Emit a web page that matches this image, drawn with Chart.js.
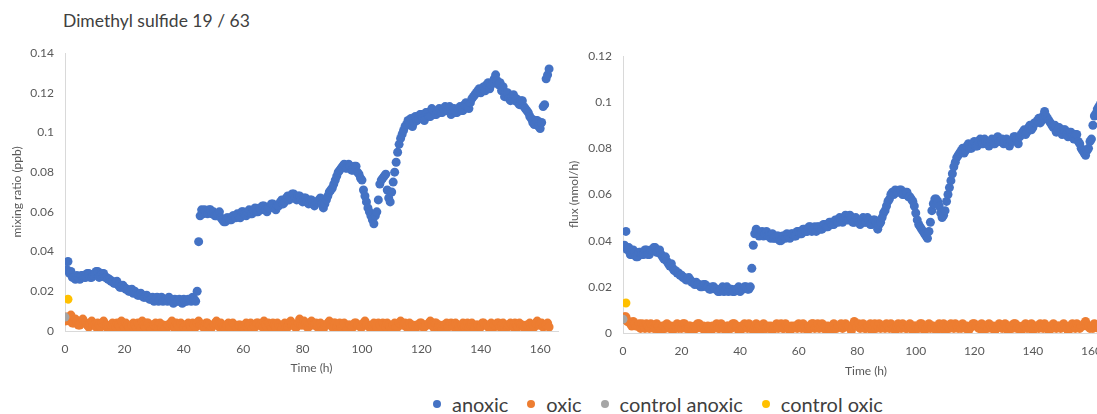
<!DOCTYPE html>
<html>
<head>
<meta charset="utf-8">
<script src="https://cdn.jsdelivr.net/npm/chart.js@4"></script>
<style>
    body { margin: 0; width: 1097px; height: 414px; overflow: hidden; background: #fff; position: relative; font-family: Lato, 'Open Sans', sans-serif; }
    .title { position: absolute; left: 63px; top: 10px; font-size: 17.5px; color: #404040; }
    .chart-box { position: absolute; top: 0; }
    .legend { position: absolute; left: 433px; top: 392px; display: flex; font-size: 20px; color: #404040; white-space: nowrap; }
    .legend-item { display: flex; align-items: center; margin-right: 19px; }
    .legend-dot { width: 8px; height: 8px; border-radius: 50%; margin-right: 11px; }
</style>
</head>
<body>
<div class="title">Dimethyl sulfide 19 / 63</div>
<div class="chart-box" style="left:0px"><canvas id="mixChart" width="570" height="380"></canvas></div>
<div class="chart-box" style="left:560px"><canvas id="fluxChart" width="560" height="380"></canvas></div>
<div id="legend" class="legend"></div>
<script>
// one sample every half hour, starting at t = 0
const STEP_H = 0.5;

const seriesNames = ['anoxic', 'oxic', 'control anoxic', 'control oxic'];
const seriesColors = ['#4472C4', '#ED7D31', '#A5A5A5', '#FFC000'];
const timeTicks = [0, 20, 40, 60, 80, 100, 120, 140, 160];

// mixing ratio (ppb), 10 h per row
const mixAnoxic = [
    0.006, 0.031, 0.035, 0.029, 0.030, 0.027, 0.027, 0.026, 0.028, 0.027, 0.026, 0.028, 0.028, 0.027, 0.027, 0.029, 0.029, 0.027, 0.027, 0.028,
    0.029, 0.030, 0.030, 0.027, 0.028, 0.029, 0.029, 0.027, 0.027, 0.026, 0.026, 0.025, 0.025, 0.024, 0.024, 0.025, 0.023, 0.022, 0.022, 0.023,
    0.022, 0.021, 0.021, 0.020, 0.020, 0.021, 0.019, 0.020, 0.019, 0.018, 0.018, 0.019, 0.018, 0.017, 0.017, 0.018, 0.017, 0.016, 0.016, 0.017,
    0.015, 0.016, 0.017, 0.015, 0.016, 0.017, 0.015, 0.016, 0.016, 0.015, 0.017, 0.016, 0.015, 0.014, 0.016, 0.015, 0.015, 0.016, 0.015, 0.014,
    0.016, 0.015, 0.015, 0.016, 0.016, 0.015, 0.017, 0.016, 0.015, 0.020, 0.045, 0.058, 0.061, 0.059, 0.061, 0.060, 0.059, 0.061, 0.061, 0.059,
    0.060, 0.058, 0.058, 0.059, 0.060, 0.057, 0.056, 0.055, 0.055, 0.057, 0.057, 0.056, 0.056, 0.058, 0.058, 0.057, 0.059, 0.058, 0.057, 0.060,
    0.060, 0.059, 0.058, 0.060, 0.061, 0.059, 0.059, 0.061, 0.062, 0.060, 0.060, 0.062, 0.061, 0.063, 0.063, 0.061, 0.060, 0.062, 0.062, 0.064,
    0.064, 0.062, 0.061, 0.063, 0.063, 0.065, 0.066, 0.064, 0.065, 0.067, 0.068, 0.066, 0.067, 0.069, 0.069, 0.067, 0.066, 0.068, 0.068, 0.066,
    0.065, 0.067, 0.067, 0.065, 0.064, 0.066, 0.066, 0.064, 0.063, 0.065, 0.065, 0.066, 0.067, 0.064, 0.062, 0.064, 0.066, 0.068, 0.070, 0.071,
    0.072, 0.074, 0.076, 0.078, 0.080, 0.081, 0.082, 0.083, 0.084, 0.082, 0.082, 0.084, 0.083, 0.081, 0.081, 0.083, 0.083, 0.080, 0.079, 0.077,
    0.076, 0.071, 0.068, 0.065, 0.062, 0.060, 0.058, 0.056, 0.054, 0.058, 0.060, 0.066, 0.074, 0.076, 0.077, 0.078, 0.079, 0.071, 0.067, 0.065,
    0.070, 0.075, 0.080, 0.085, 0.090, 0.094, 0.097, 0.099, 0.101, 0.103, 0.104, 0.106, 0.105, 0.107, 0.103, 0.105, 0.108, 0.106, 0.107, 0.109,
    0.109, 0.107, 0.106, 0.110, 0.110, 0.108, 0.108, 0.112, 0.111, 0.109, 0.109, 0.111, 0.112, 0.110, 0.110, 0.112, 0.113, 0.111, 0.111, 0.113,
    0.109, 0.111, 0.112, 0.110, 0.110, 0.112, 0.113, 0.111, 0.111, 0.114, 0.115, 0.113, 0.112, 0.115, 0.117, 0.118, 0.119, 0.120, 0.121, 0.122,
    0.120, 0.122, 0.123, 0.121, 0.124, 0.125, 0.122, 0.124, 0.125, 0.127, 0.129, 0.126, 0.124, 0.125, 0.121, 0.123, 0.118, 0.120, 0.120, 0.117,
    0.116, 0.118, 0.119, 0.116, 0.117, 0.115, 0.114, 0.116, 0.116, 0.113, 0.112, 0.111, 0.110, 0.108, 0.107, 0.105, 0.104, 0.106, 0.106, 0.103,
    0.102, 0.105, 0.113, 0.114, 0.127, 0.129, 0.132
];
const mixOxic = [
    0.005, 0.007, 0.006, 0.005, 0.008, 0.004, 0.004, 0.006, 0.005, 0.003, 0.003, 0.005, 0.006, 0.004, 0.004, 0.003, 0.002, 0.004, 0.005, 0.003,
    0.003, 0.002, 0.004, 0.003, 0.002, 0.004, 0.005, 0.003, 0.003, 0.001, 0.001, 0.003, 0.004, 0.002, 0.002, 0.004, 0.003, 0.002, 0.005, 0.003,
    0.002, 0.004, 0.003, 0.002, 0.001, 0.003, 0.004, 0.003, 0.002, 0.004, 0.003, 0.001, 0.005, 0.003, 0.002, 0.004, 0.004, 0.002, 0.001, 0.003,
    0.003, 0.004, 0.002, 0.003, 0.004, 0.002, 0.003, 0.001, 0.001, 0.003, 0.003, 0.004, 0.005, 0.002, 0.002, 0.004, 0.003, 0.002, 0.004, 0.003,
    0.002, 0.003, 0.001, 0.004, 0.003, 0.002, 0.004, 0.003, 0.002, 0.004, 0.005, 0.003, 0.003, 0.002, 0.002, 0.004, 0.004, 0.003, 0.001, 0.002,
    0.003, 0.004, 0.005, 0.003, 0.002, 0.004, 0.003, 0.002, 0.001, 0.003, 0.004, 0.002, 0.002, 0.004, 0.003, 0.001, 0.001, 0.003, 0.003, 0.002,
    0.002, 0.003, 0.004, 0.002, 0.003, 0.004, 0.001, 0.003, 0.002, 0.004, 0.004, 0.003, 0.003, 0.002, 0.005, 0.003, 0.002, 0.004, 0.003, 0.002,
    0.004, 0.003, 0.002, 0.004, 0.003, 0.002, 0.001, 0.003, 0.004, 0.002, 0.002, 0.004, 0.005, 0.003, 0.003, 0.002, 0.002, 0.004, 0.006, 0.003,
    0.003, 0.005, 0.004, 0.002, 0.002, 0.004, 0.005, 0.003, 0.003, 0.004, 0.002, 0.003, 0.004, 0.002, 0.001, 0.003, 0.003, 0.004, 0.005, 0.003,
    0.002, 0.004, 0.004, 0.002, 0.003, 0.004, 0.002, 0.003, 0.004, 0.002, 0.001, 0.003, 0.003, 0.002, 0.002, 0.004, 0.004, 0.003, 0.003, 0.002,
    0.002, 0.004, 0.005, 0.003, 0.003, 0.002, 0.001, 0.003, 0.004, 0.003, 0.002, 0.004, 0.003, 0.002, 0.004, 0.003, 0.002, 0.004, 0.003, 0.002,
    0.001, 0.003, 0.004, 0.002, 0.002, 0.004, 0.005, 0.003, 0.003, 0.004, 0.002, 0.003, 0.004, 0.002, 0.003, 0.002, 0.001, 0.003, 0.003, 0.004,
    0.004, 0.002, 0.002, 0.003, 0.003, 0.004, 0.005, 0.003, 0.002, 0.004, 0.004, 0.002, 0.003, 0.002, 0.001, 0.003, 0.003, 0.004, 0.002, 0.003,
    0.004, 0.003, 0.002, 0.004, 0.003, 0.002, 0.001, 0.003, 0.004, 0.002, 0.003, 0.004, 0.002, 0.003, 0.004, 0.002, 0.001, 0.003, 0.003, 0.002,
    0.002, 0.004, 0.004, 0.003, 0.003, 0.002, 0.002, 0.004, 0.001, 0.003, 0.003, 0.004, 0.004, 0.002, 0.003, 0.004, 0.001, 0.003, 0.002, 0.003,
    0.004, 0.003, 0.002, 0.004, 0.003, 0.002, 0.004, 0.003, 0.003, 0.002, 0.001, 0.003, 0.003, 0.004, 0.002, 0.003, 0.002, 0.004, 0.005, 0.003,
    0.003, 0.004, 0.002, 0.003, 0.003, 0.004, 0.002
];
const mixCtrlAnoxicTime = [0];
const mixCtrlAnoxic = [0.007];
const mixCtrlOxicTime = [1];
const mixCtrlOxic = [0.016];

// flux (nmol/h), 10 h per row
const fluxAnoxic = [
    0.006, 0.038, 0.044, 0.036, 0.037, 0.034, 0.034, 0.036, 0.035, 0.033, 0.033, 0.035, 0.035, 0.034, 0.034, 0.036, 0.036, 0.034, 0.034, 0.036,
    0.036, 0.037, 0.037, 0.035, 0.035, 0.036, 0.034, 0.033, 0.032, 0.033, 0.031, 0.030, 0.029, 0.030, 0.028, 0.027, 0.027, 0.026, 0.026, 0.025,
    0.025, 0.024, 0.024, 0.023, 0.023, 0.024, 0.023, 0.022, 0.022, 0.021, 0.022, 0.021, 0.021, 0.020, 0.020, 0.021, 0.021, 0.020, 0.020, 0.019,
    0.019, 0.020, 0.020, 0.019, 0.019, 0.018, 0.018, 0.019, 0.020, 0.018, 0.019, 0.020, 0.018, 0.019, 0.019, 0.018, 0.018, 0.019, 0.019, 0.020,
    0.018, 0.019, 0.019, 0.020, 0.020, 0.019, 0.019, 0.020, 0.028, 0.038, 0.043, 0.045, 0.044, 0.042, 0.043, 0.044, 0.042, 0.043, 0.044, 0.042,
    0.042, 0.041, 0.043, 0.041, 0.041, 0.042, 0.042, 0.040, 0.040, 0.042, 0.042, 0.041, 0.043, 0.042, 0.041, 0.043, 0.043, 0.042, 0.042, 0.044,
    0.044, 0.043, 0.043, 0.045, 0.045, 0.044, 0.044, 0.046, 0.046, 0.044, 0.045, 0.046, 0.044, 0.046, 0.046, 0.045, 0.045, 0.047, 0.047, 0.046,
    0.046, 0.048, 0.048, 0.047, 0.047, 0.049, 0.049, 0.048, 0.050, 0.049, 0.048, 0.050, 0.051, 0.049, 0.049, 0.051, 0.050, 0.048, 0.048, 0.050,
    0.049, 0.048, 0.047, 0.049, 0.050, 0.048, 0.048, 0.050, 0.049, 0.047, 0.047, 0.049, 0.049, 0.048, 0.045, 0.047, 0.048, 0.050, 0.052, 0.053,
    0.055, 0.057, 0.058, 0.060, 0.061, 0.060, 0.062, 0.061, 0.061, 0.062, 0.062, 0.060, 0.060, 0.061, 0.061, 0.059, 0.059, 0.058, 0.057, 0.055,
    0.052, 0.049, 0.047, 0.046, 0.045, 0.044, 0.043, 0.042, 0.041, 0.044, 0.048, 0.053, 0.056, 0.058, 0.058, 0.057, 0.055, 0.052, 0.050, 0.051,
    0.053, 0.057, 0.060, 0.063, 0.066, 0.069, 0.072, 0.074, 0.076, 0.077, 0.078, 0.079, 0.080, 0.078, 0.079, 0.081, 0.082, 0.080, 0.080, 0.082,
    0.083, 0.081, 0.081, 0.083, 0.084, 0.082, 0.082, 0.084, 0.083, 0.082, 0.081, 0.083, 0.084, 0.082, 0.082, 0.084, 0.085, 0.083, 0.083, 0.084,
    0.082, 0.083, 0.084, 0.082, 0.081, 0.083, 0.083, 0.085, 0.085, 0.084, 0.082, 0.085, 0.086, 0.087, 0.088, 0.086, 0.087, 0.089, 0.090, 0.088,
    0.089, 0.091, 0.091, 0.092, 0.093, 0.091, 0.092, 0.094, 0.096, 0.094, 0.093, 0.092, 0.091, 0.090, 0.089, 0.090, 0.087, 0.088, 0.089, 0.087,
    0.086, 0.088, 0.088, 0.086, 0.085, 0.087, 0.087, 0.085, 0.084, 0.086, 0.086, 0.083, 0.082, 0.080, 0.079, 0.078, 0.077, 0.079, 0.080, 0.083,
    0.084, 0.090, 0.094, 0.095, 0.097, 0.098, 0.099
];
const fluxOxic = [
    0.006, 0.007, 0.007, 0.005, 0.005, 0.004, 0.003, 0.005, 0.004, 0.003, 0.003, 0.004, 0.002, 0.004, 0.003, 0.002, 0.004, 0.003, 0.002, 0.004,
    0.003, 0.002, 0.002, 0.004, 0.003, 0.001, 0.001, 0.003, 0.003, 0.002, 0.004, 0.003, 0.002, 0.003, 0.001, 0.002, 0.003, 0.004, 0.002, 0.003,
    0.002, 0.004, 0.004, 0.002, 0.002, 0.003, 0.003, 0.001, 0.001, 0.003, 0.002, 0.004, 0.004, 0.003, 0.002, 0.003, 0.001, 0.002, 0.003, 0.002,
    0.001, 0.003, 0.002, 0.003, 0.004, 0.002, 0.002, 0.004, 0.003, 0.002, 0.001, 0.003, 0.003, 0.002, 0.002, 0.004, 0.004, 0.003, 0.003, 0.001,
    0.001, 0.003, 0.002, 0.004, 0.003, 0.002, 0.004, 0.003, 0.002, 0.001, 0.003, 0.004, 0.002, 0.003, 0.001, 0.003, 0.004, 0.002, 0.002, 0.003,
    0.002, 0.003, 0.001, 0.002, 0.003, 0.004, 0.002, 0.003, 0.004, 0.002, 0.002, 0.004, 0.003, 0.002, 0.001, 0.003, 0.002, 0.003, 0.003, 0.002,
    0.004, 0.003, 0.002, 0.004, 0.003, 0.002, 0.001, 0.003, 0.002, 0.004, 0.004, 0.002, 0.003, 0.004, 0.002, 0.003, 0.004, 0.002, 0.003, 0.001,
    0.003, 0.002, 0.001, 0.003, 0.004, 0.002, 0.002, 0.003, 0.003, 0.004, 0.002, 0.003, 0.004, 0.003, 0.003, 0.002, 0.001, 0.003, 0.005, 0.003,
    0.003, 0.004, 0.002, 0.003, 0.004, 0.002, 0.002, 0.003, 0.003, 0.004, 0.001, 0.003, 0.004, 0.002, 0.003, 0.004, 0.002, 0.003, 0.003, 0.002,
    0.004, 0.003, 0.002, 0.004, 0.003, 0.002, 0.001, 0.003, 0.004, 0.003, 0.002, 0.004, 0.003, 0.002, 0.002, 0.003, 0.004, 0.002, 0.001, 0.003,
    0.003, 0.002, 0.002, 0.004, 0.004, 0.003, 0.001, 0.002, 0.003, 0.004, 0.002, 0.003, 0.003, 0.002, 0.001, 0.003, 0.004, 0.002, 0.003, 0.004,
    0.001, 0.003, 0.003, 0.002, 0.004, 0.003, 0.002, 0.004, 0.003, 0.002, 0.003, 0.002, 0.004, 0.003, 0.002, 0.003, 0.001, 0.002, 0.003, 0.004,
    0.004, 0.003, 0.003, 0.002, 0.002, 0.004, 0.001, 0.003, 0.003, 0.002, 0.004, 0.003, 0.002, 0.003, 0.001, 0.002, 0.003, 0.004, 0.003, 0.002,
    0.003, 0.004, 0.002, 0.001, 0.003, 0.003, 0.002, 0.004, 0.004, 0.002, 0.003, 0.002, 0.001, 0.003, 0.003, 0.004, 0.002, 0.003, 0.002, 0.004,
    0.001, 0.002, 0.003, 0.003, 0.002, 0.004, 0.003, 0.002, 0.004, 0.003, 0.002, 0.001, 0.003, 0.002, 0.004, 0.003, 0.002, 0.003, 0.003, 0.002,
    0.003, 0.004, 0.003, 0.002, 0.001, 0.003, 0.002, 0.004, 0.003, 0.002, 0.004, 0.003, 0.002, 0.003, 0.003, 0.004, 0.005, 0.003, 0.003, 0.002,
    0.003, 0.002, 0.004, 0.003, 0.003, 0.002, 0.003
];
const fluxCtrlAnoxicTime = [0];
const fluxCtrlAnoxic = [0.006];
const fluxCtrlOxicTime = [1];
const fluxCtrlOxic = [0.013];

const TEXT_COLOR = '#595959';
const AXIS_COLOR = '#D9D9D9';
const FONT = "Lato, 'Open Sans', sans-serif";

// sampled series -> {x, y}
const sampled = values => values.map((v, i) => ({ x: i * STEP_H, y: v }));
const paired = (times, values) => values.map((v, i) => ({ x: times[i], y: v }));

const makeDataset = (idx, points) => ({
    label: seriesNames[idx],
    data: points,
    backgroundColor: seriesColors[idx],
    borderWidth: 0,
    pointRadius: 4.5,
    pointHoverRadius: 4.5,
    order: 3 - idx // later series sit on top
});

const buildChart = (canvasId, datasets, opts) => {
    const ctx = document.getElementById(canvasId).getContext('2d');
    return new Chart(ctx, {
        type: 'scatter',
        data: { datasets },
        options: {
            responsive: false,
            animation: false,
            devicePixelRatio: 1,
            layout: { padding: { top: opts.padTop, right: opts.padRight, left: 0, bottom: 0 } },
            plugins: { legend: { display: false }, tooltip: { enabled: false } },
            scales: {
                x: {
                    type: 'linear',
                    min: 0,
                    max: 166,
                    grid: { display: false },
                    border: { display: true, color: AXIS_COLOR, width: 1 },
                    ticks: { color: TEXT_COLOR, font: { family: FONT, size: 12 }, padding: 3, maxRotation: 0, autoSkip: false },
                    afterBuildTicks: scale => { scale.ticks = timeTicks.map(v => ({ value: v })); },
                    afterFit: scale => { scale.height = opts.xHeight; },
                    title: { display: true, text: 'Time (h)', color: TEXT_COLOR, font: { family: FONT, size: 12 }, padding: { top: 0, bottom: opts.xTitlePad } }
                },
                y: {
                    min: 0,
                    max: opts.yMax,
                    grid: { display: false },
                    border: { display: true, color: AXIS_COLOR, width: 1 },
                    ticks: {
                        stepSize: 0.02,
                        color: TEXT_COLOR,
                        font: { family: FONT, size: 12 },
                        padding: 3,
                        callback: v => String(+v.toFixed(2))
                    },
                    afterFit: scale => { scale.width = opts.yWidth; },
                    title: { display: true, text: opts.yTitle, color: TEXT_COLOR, font: { family: FONT, size: 12 }, padding: { top: opts.yTitlePad, bottom: 0 } }
                }
            }
        }
    });
};

buildChart('mixChart', [
    makeDataset(0, sampled(mixAnoxic)),
    makeDataset(1, sampled(mixOxic)),
    makeDataset(2, paired(mixCtrlAnoxicTime, mixCtrlAnoxic)),
    makeDataset(3, paired(mixCtrlOxicTime, mixCtrlOxic))
], { yMax: 0.14, yTitle: 'mixing ratio (ppb)', padTop: 53, padRight: 12, xHeight: 49, yWidth: 65, xTitlePad: 5, yTitlePad: 10 });

buildChart('fluxChart', [
    makeDataset(0, sampled(fluxAnoxic)),
    makeDataset(1, sampled(fluxOxic)),
    makeDataset(2, paired(fluxCtrlAnoxicTime, fluxCtrlAnoxic)),
    makeDataset(3, paired(fluxCtrlOxicTime, fluxCtrlOxic))
], { yMax: 0.12, yTitle: 'flux (nmol/h)', padTop: 56, padRight: 11, xHeight: 47, yWidth: 63, xTitlePad: 2, yTitlePad: 7 });

// shared legend under both charts
const legend = document.getElementById('legend');
seriesNames.forEach((name, i) => {
    const item = document.createElement('div');
    item.className = 'legend-item';
    item.innerHTML = `<span class="legend-dot" style="background:${seriesColors[i]}"></span><span>${name}</span>`;
    legend.appendChild(item);
});
</script>
</body>
</html>
